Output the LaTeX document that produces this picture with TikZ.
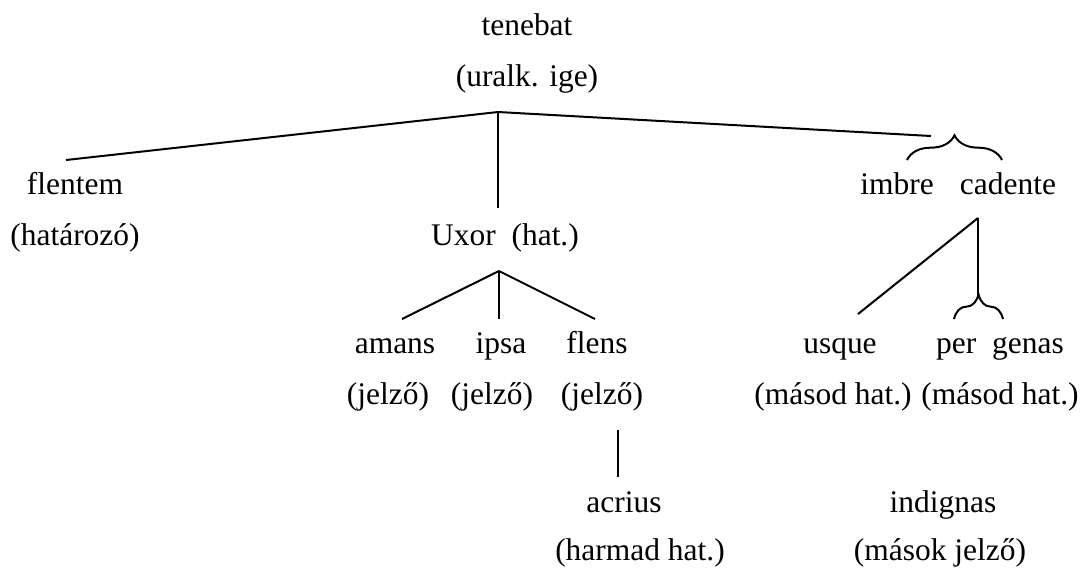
\documentclass[tikz,border=0pt]{standalone}
\usepackage{fontspec}
\setmainfont{Liberation Serif}
\usetikzlibrary{decorations.pathreplacing}

\begin{document}
\begin{tikzpicture}[x=0.75pt,y=-0.75pt,
  word/.style={anchor=base,inner sep=0pt,font=\fontsize{23.6}{28}\selectfont},
  branch/.style={line width=1.5pt},
  curly/.style={line width=1.5pt,decorate,decoration={brace,amplitude=18.5pt,aspect=0.5}}]
  \useasboundingbox (0,0) rectangle (1088,569);

  % tenebat
  \node[word] (tenebat) at (527,35) {tenebat};
  \node[word] (tenebatRole) at (527,86) {(uralk. ige)};
  \coordinate (top) at (498,112);

  % first level
  \node[word] (flentem) at (75,194) {flentem};
  \node[word] (flentemRole) at (75,245) {(határozó)};
  \node[word] (uxor) at (505,245) {Uxor~~(hat.)};
  \node[word] (imbre) at (897,194) {imbre};
  \node[word] (cadente) at (1008,194) {cadente};

  \coordinate (flentemEnd) at (66,160);
  \coordinate (uxorEnd) at (498,208);
  \coordinate (imbreEnd) at (931,136);
  \coordinate (imbreL) at (907,160);
  \coordinate (imbreR) at (1002,160);

  \path[branch,draw]
  (top) edge (flentemEnd)
  (top) edge (uxorEnd)
  (top) edge (imbreEnd);
  \draw[curly] (imbreL) -- (imbreR);

  % Uxor
  \node[word] (amans) at (395,353) {amans};
  \node[word] (ipsa) at (501,353) {ipsa};
  \node[word] (flens) at (597,353) {flens};
  \node[word] (amansRole) at (388,404) {(jelző)};
  \node[word] (ipsaRole) at (492,404) {(jelző)};
  \node[word] (flensRole) at (602,404) {(jelző)};

  \coordinate (uxorTop) at (499,271);
  \coordinate (amansEnd) at (402,319);
  \coordinate (ipsaEnd) at (499,319);
  \coordinate (flensEnd) at (595,319);

  \path[branch,draw]
  (uxorTop) edge (amansEnd)
  (uxorTop) edge (ipsaEnd)
  (uxorTop) edge (flensEnd);

  % flens
  \node[word] (acrius) at (624,512) {acrius};
  \node[word] (acriusRole) at (640,560) {(harmad hat.)};
  \coordinate (flensDown) at (618,430);
  \coordinate (acriusEnd) at (618,477);
  \draw[branch] (flensDown) -- (acriusEnd);

  % cadente
  \node[word] (usque) at (840,353) {usque};
  \node[word] (pergenas) at (1000,353) {per~~genas};
  \node[word] (usqueRole) at (833,404) {(másod hat.)};
  \node[word] (pergenasRole) at (1000,404) {(másod hat.)};
  \node[word] (indignas) at (943,512) {indignas};
  \node[word] (indignasRole) at (940,560) {(mások jelző)};

  \coordinate (cadenteTop) at (978,218);
  \coordinate (usqueEnd) at (858,314);
  \coordinate (genasTip) at (978,295);
  \coordinate (perL) at (954,319);
  \coordinate (perR) at (1003,319);

  \path[branch,draw]
  (cadenteTop) edge (usqueEnd)
  (cadenteTop) edge (genasTip);
  \draw[curly] (perL) -- (perR);
\end{tikzpicture}
\end{document}
